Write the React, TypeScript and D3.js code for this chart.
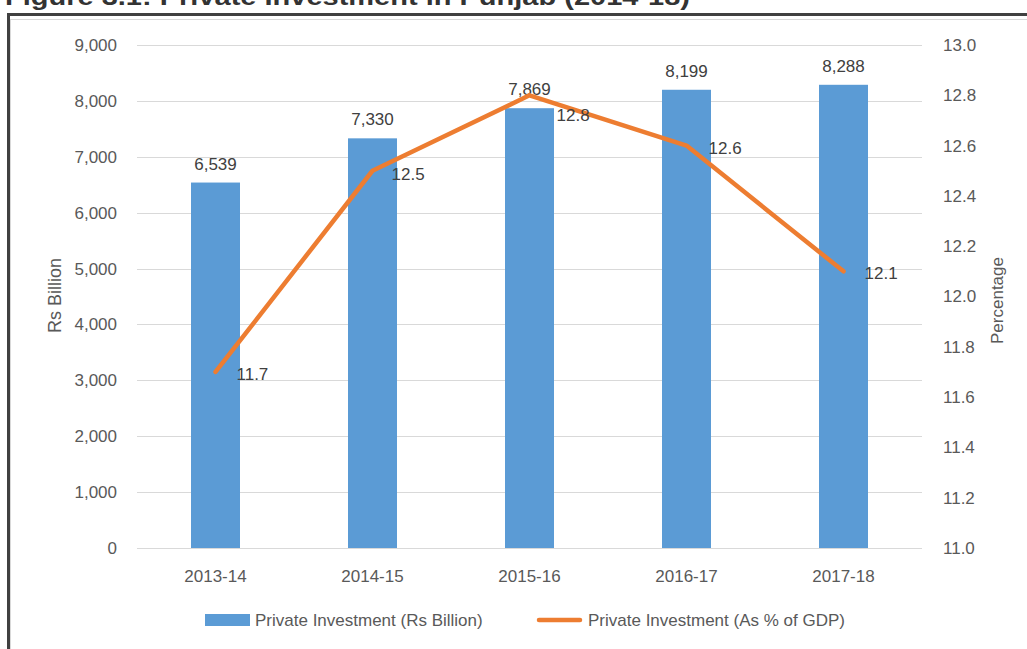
import React from "react";
import * as d3 from "d3";

const categories = ["2013-14", "2014-15", "2015-16", "2016-17", "2017-18"];
const investment = [6539, 7330, 7869, 8199, 8288];
const percentGDP = [11.7, 12.5, 12.8, 12.6, 12.1];
const leftTicks = [0, 1000, 2000, 3000, 4000, 5000, 6000, 7000, 8000, 9000];
const rightTicks = [11.0, 11.2, 11.4, 11.6, 11.8, 12.0, 12.2, 12.4, 12.6, 12.8, 13.0];
const seriesNames = ["Private Investment (Rs Billion)", "Private Investment (As % of GDP)"];
const title = "Figure 3.1: Private Investment in Punjab (2014-18)";

const W = 1027;
const H = 649;
const plot = { left: 137, right: 922, top: 45, bottom: 548 };
const BLUE = "#5B9BD5";
const ORANGE = "#ED7D31";
const TXT = "#595959";
const FONT = "'Liberation Sans', Arial, sans-serif";

export default function App() {
  const x = d3
    .scaleBand<string>()
    .domain(categories)
    .range([plot.left, plot.right])
    .paddingInner(0.688)
    .paddingOuter(0.344);
  const xc = (c: string) => (x(c) as number) + x.bandwidth() / 2;
  const yL = d3.scaleLinear().domain([0, 9000]).range([plot.bottom, plot.top]);
  const yR = d3.scaleLinear().domain([11, 13]).range([plot.bottom, plot.top]);
  const fmt = d3.format(",");
  const line = d3
    .line<number>()
    .x((_, i) => xc(categories[i]))
    .y((d) => yR(d));

  // manual label nudges (like the original's hand-placed labels)
  const pctLabelDx = [21, 19, 27, 22, 21];
  const pctLabelDy = [2, 3, 20, 2, 2];

  return (
    <div style={{ position: "absolute", left: 0, top: 0 }}>
      <svg width={W} height={H} style={{ display: "block", background: "#fff" }}>
        <rect x={0} y={0} width={W} height={H} fill="#fff" />
        {/* title (cropped at top, as in the source) */}
        <text
          x={5}
          y={5}
          fontFamily={FONT}
          fontWeight="bold"
          fontSize={24}
          fill="#333"
          textLength={685}
          lengthAdjust="spacingAndGlyphs"
        >
          {title}
        </text>
        {/* frame */}
        <line x1={8.5} x2={W} y1={14.5} y2={14.5} stroke="#404040" strokeWidth={3} />
        <line x1={8.5} x2={8.5} y1={13} y2={H} stroke="#404040" strokeWidth={3} />
        <line x1={10} x2={W} y1={19.5} y2={19.5} stroke="#d9d9d9" strokeWidth={1} />
        <line x1={10.5} x2={10.5} y1={19} y2={H} stroke="#d9d9d9" strokeWidth={1} />

        {/* gridlines */}
        {leftTicks.map((t) => (
          <line
            key={"g" + t}
            x1={plot.left}
            x2={plot.right}
            y1={Math.round(yL(t)) + 0.5}
            y2={Math.round(yL(t)) + 0.5}
            stroke="#d9d9d9"
            strokeWidth={1}
          />
        ))}
        {/* left ticks */}
        {leftTicks.map((t) => (
          <text
            key={"l" + t}
            x={117}
            y={yL(t)}
            dy="0.35em"
            textAnchor="end"
            fontFamily={FONT}
            fontSize={17}
            fill={TXT}
          >
            {fmt(t)}
          </text>
        ))}
        {/* right ticks */}
        {rightTicks.map((t) => (
          <text
            key={"r" + t}
            x={943}
            y={yR(t)}
            dy="0.35em"
            textAnchor="start"
            fontFamily={FONT}
            fontSize={17}
            fill={TXT}
          >
            {t.toFixed(1)}
          </text>
        ))}
        {/* axis titles */}
        <text
          transform={`translate(61,${(plot.top + plot.bottom) / 2 - 1}) rotate(-90)`}
          textAnchor="middle"
          fontFamily={FONT}
          fontSize={18}
          fill={TXT}
        >
          Rs Billion
        </text>
        <text
          transform={`translate(1003,${(plot.top + plot.bottom) / 2 + 4}) rotate(-90)`}
          textAnchor="middle"
          fontFamily={FONT}
          fontSize={17}
          fill={TXT}
        >
          Percentage
        </text>

        {/* bars */}
        {investment.map((v, i) => (
          <rect
            key={"b" + i}
            x={x(categories[i])}
            y={yL(v)}
            width={x.bandwidth()}
            height={yL(0) - yL(v)}
            fill={BLUE}
          />
        ))}
        {investment.map((v, i) => (
          <text
            key={"bl" + i}
            x={xc(categories[i])}
            y={yL(v) - 13}
            textAnchor="middle"
            fontFamily={FONT}
            fontSize={17}
            fill="#404040"
          >
            {fmt(v)}
          </text>
        ))}

        {/* line */}
        <path
          d={line(percentGDP) as string}
          fill="none"
          stroke={ORANGE}
          strokeWidth={4.5}
          strokeLinejoin="round"
          strokeLinecap="round"
        />
        {percentGDP.map((v, i) => (
          <text
            key={"pl" + i}
            x={xc(categories[i]) + pctLabelDx[i]}
            y={yR(v) + pctLabelDy[i]}
            dy="0.35em"
            textAnchor="start"
            fontFamily={FONT}
            fontSize={17}
            fill="#404040"
          >
            {v.toFixed(1)}
          </text>
        ))}

        {/* x labels */}
        {categories.map((c) => (
          <text
            key={"x" + c}
            x={xc(c)}
            y={582}
            textAnchor="middle"
            fontFamily={FONT}
            fontSize={17}
            fill={TXT}
          >
            {c}
          </text>
        ))}

        {/* legend */}
        <rect x={205} y={614} width={45} height={12} fill={BLUE} />
        <text x={255} y={626} fontFamily={FONT} fontSize={17} fill={TXT}>
          {seriesNames[0]}
        </text>
        <line x1={539} x2={580} y1={620} y2={620} stroke={ORANGE} strokeWidth={4.5} strokeLinecap="round" />
        <text x={588} y={626} fontFamily={FONT} fontSize={17} fill={TXT}>
          {seriesNames[1]}
        </text>
      </svg>
    </div>
  );
}
